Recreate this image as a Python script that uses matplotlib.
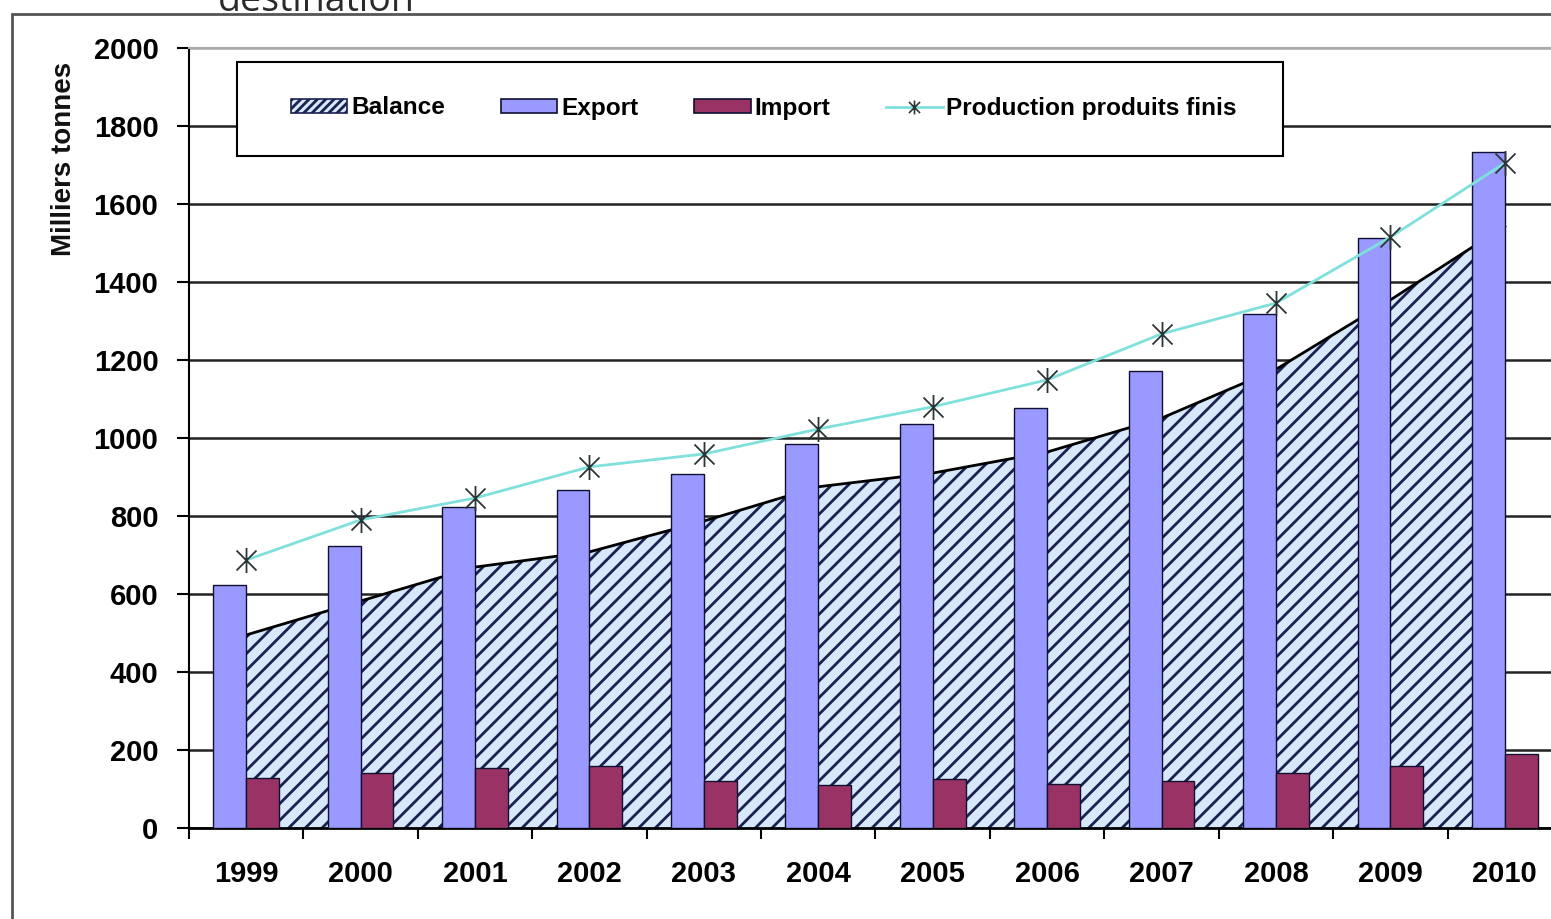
import numpy as np
import matplotlib
matplotlib.use("Agg")
import matplotlib.pyplot as plt
from matplotlib.patches import Patch, Rectangle
from matplotlib.lines import Line2D
from matplotlib.path import Path

# ---- data ----
years = ["1999", "2000", "2001", "2002", "2003", "2004", "2005", "2006", "2007", "2008", "2009", "2010"]
export = [623, 723, 823, 867, 908, 985, 1036, 1077, 1172, 1318, 1513, 1733]
imports = [128, 141, 154, 159, 121, 110, 126, 113, 121, 142, 159, 190]
balance = [495, 582, 669, 708, 787, 875, 910, 964, 1051, 1176, 1354, 1543]
production = [687, 790, 846, 926, 959, 1023, 1080, 1149, 1267, 1346, 1515, 1705]
yticks = [0, 200, 400, 600, 800, 1000, 1200, 1400, 1600, 1800, 2000]

W, H = 1551, 919
plt.rcParams['hatch.linewidth'] = 2.0
plt.rcParams['hatch.color'] = '#1a2050'
FONT = 'Liberation Sans'

fig = plt.figure(figsize=(W / 100, H / 100), dpi=100)
fig.patch.set_facecolor('white')

# outer chart border (partially cut by the image)
fig.patches.append(Rectangle((12 / W, -0.2), 1.2, 1.2 - 14 / H, transform=fig.transFigure,
                             fill=False, edgecolor='#555555', linewidth=2, zorder=0))

ax = fig.add_axes([189 / W, 1 - 828 / H, 1373 / W, 780 / H])
ax.set_facecolor('white')

x = np.arange(len(years))
ax.fill_between(x, 0, balance, facecolor='#d8e8fb', edgecolor='#1a2050', hatch='//',
                linewidth=0, zorder=2)
ax.plot(x, balance, color='black', lw=2, zorder=2.5)

bw = 0.287
ax.bar(x - bw / 2, export, bw, color='#9999ff', edgecolor='#101030', linewidth=1, zorder=3)
ax.bar(x + bw / 2, imports, bw, color='#993366', edgecolor='#101030', linewidth=1, zorder=3)

star = Path([(-1, -1), (1, 1), (-1, 1), (1, -1), (0, -1.25), (0, 1.25)],
            [Path.MOVETO, Path.LINETO, Path.MOVETO, Path.LINETO, Path.MOVETO, Path.LINETO])
ax.plot(x, production, color='#7fe0dc', lw=2, zorder=4)
ax.plot(x, production, ls='none', marker=star, ms=18, mew=1.3, mec='#2b3535',
        mfc='none', zorder=5)

ax.set_xlim(-0.5, len(years) - 0.5)
ax.set_ylim(0, 2000)
ax.set_yticks(yticks)
ax.set_yticklabels([str(v) for v in yticks])
ax.set_xticks(np.arange(-0.5, len(years), 1.0))
ax.set_xticklabels([])
ax.set_xticks(x, minor=True)
ax.set_xticklabels(years, minor=True)

ax.set_axisbelow(True)
ax.yaxis.grid(True, color='#222222', lw=1.8, zorder=0.5)
ax.get_ygridlines()[-1].set_color('#aaaaaa')

for lab in ax.get_yticklabels() + ax.get_xticklabels(minor=True):
    lab.set_fontfamily(FONT)
    lab.set_fontweight('bold')
    lab.set_fontsize(21)
ax.tick_params(axis='y', direction='out', length=9, width=1.5, pad=13, colors='black')
ax.tick_params(axis='x', which='major', direction='out', length=8, width=1.5)
ax.tick_params(axis='x', which='minor', length=0, pad=23)

ax.spines['right'].set_visible(False)
ax.spines['top'].set_color('#aaaaaa')
ax.spines['top'].set_linewidth(1.5)
ax.spines['left'].set_linewidth(1.5)
ax.spines['bottom'].set_linewidth(2)

# legend box
box = Rectangle((237 / W, 1 - 156 / H), 1046 / W, 94 / H, transform=fig.transFigure,
                facecolor='white', edgecolor='black', linewidth=1.5, zorder=6, clip_on=False)
ax.add_patch(box)
handles = [
    Patch(facecolor='#d8e8fb', edgecolor='#1a2050', hatch='////', linewidth=1.2),
    Patch(facecolor='#9999ff', edgecolor='#101030', linewidth=1.2),
    Patch(facecolor='#993366', edgecolor='#101030', linewidth=1.2),
    Line2D([], [], color='#7fe0dc', lw=2, marker=star, ms=10, mew=1.2, mec='#2b3535', mfc='none'),
]
labels = ["Balance", "Export", "Import", "Production produits finis"]
leg = ax.legend(handles, labels, loc='center', bbox_to_anchor=(764 / W, 1 - 108 / H),
                bbox_transform=fig.transFigure, ncol=4, frameon=False, borderpad=0,
                handlelength=2.3, handleheight=0.5, handletextpad=0.15, columnspacing=2.3,
                prop={'family': FONT, 'weight': 'bold', 'size': 17.6})
leg.set_zorder(7)

fig.text(64 / W, 1 - 159 / H, 'Milliers tonnes', rotation=90, ha='center', va='center',
         fontsize=20, fontweight='bold', family=FONT, color='#111111')
fig.text(218 / W, 1 - 11 / H, 'destination', fontsize=27, family='Open Sans',
         color='#2a2a2a', ha='left', va='baseline')

fig.savefig('out.png', dpi=100, facecolor='white')
